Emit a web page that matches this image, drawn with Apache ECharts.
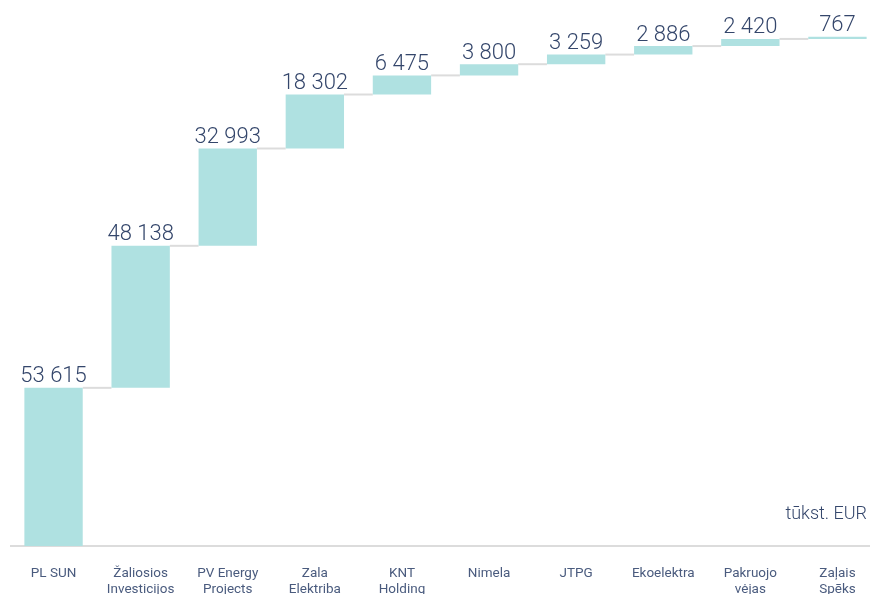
<!DOCTYPE html>
<html>
<head>
<meta charset="utf-8">
<script src="https://cdn.jsdelivr.net/npm/echarts@6/dist/echarts.min.js"></script>
<style>
  html, body { margin: 0; padding: 0; background: #fff; }
  #chart-area { width: 883px; height: 594px; }
</style>
</head>
<body>
<div id="chart-area"></div>
<script>
// įmonės (kategorijos)
var companies = ['PL SUN', 'Žaliosios\nInvesticijos', 'PV Energy\nProjects', 'Zala\nElektriba', 'KNT\nHolding',
    'Nimela', 'JTPG', 'Ekoelektra', 'Pakruojo\nvėjas', 'Zaļais\nSpēks'];
// vertės, tūkst. EUR
var values = [53615, 48138, 32993, 18302, 6475, 3800, 3259, 2886, 2420, 767];

var barColor = '#afe1e1';
var textColor = '#34466b';

// krioklio pagrindas (nematomas stulpelis)
var base = [];
var tops = [];
var sum = 0;
values.forEach(function(v){
    base.push(sum);
    sum += v;
    tops.push(sum);
});

// jungiamosios linijos tarp stulpelių
var links = [];
for (var i = 0; i < values.length - 1; i++) {
    links.push([i, tops[i]]);
}

function fmt(v){
    return String(v).replace(/\B(?=(\d{3})+(?!\d))/g, ' ');
}

var barRatio = 0.67;

var option = {
    animation: false,
    grid: { left: 10, right: 2, top: 15, bottom: 48, outerBoundsMode: 'none', containLabel: false },
    xAxis: {
        type: 'category',
        data: companies,
        axisTick: { show: false },
        axisLine: { show: false },
        axisLabel: {
            interval: 0,
            color: '#4a5b7e',
            fontFamily: 'Roboto',
            fontSize: 13.5,
            lineHeight: 16,
            margin: 20
        }
    },
    yAxis: {
        type: 'value',
        min: 0,
        max: 180000,
        show: false,
        splitLine: { show: false }
    },
    graphic: [{
        // ašies linija
        type: 'rect',
        left: 10,
        top: 545,
        shape: { width: 860, height: 2 },
        style: { fill: '#dcdcdc' },
        z: 0
    }, {
        type: 'text',
        right: 16,
        top: 505,
        style: {
            text: 'tūkst. EUR',
            fill: textColor,
            font: '300 18px Roboto'
        }
    }],
    series: [
        {
            type: 'custom',
            z: 1,
            data: links,
            renderItem: function(params, api){
                var i = api.value(0);
                var a = api.coord([i, api.value(1)]);
                var b = api.coord([i + 1, api.value(1)]);
                var half = api.size([1, 0])[0] * barRatio / 2;
                return {
                    type: 'line',
                    shape: { x1: a[0] + half, y1: a[1], x2: b[0] - half, y2: b[1] },
                    style: { stroke: '#dcdcdc', lineWidth: 2 }
                };
            },
            encode: { x: 0, y: 1 }
        },
        {
            type: 'bar',
            stack: 'w',
            barWidth: (barRatio * 100) + '%',
            itemStyle: { color: 'transparent' },
            data: base,
            silent: true
        },
        {
            type: 'bar',
            stack: 'w',
            z: 3,
            barWidth: (barRatio * 100) + '%',
            itemStyle: { color: barColor },
            label: {
                show: true,
                position: 'top',
                distance: 0,
                color: textColor,
                fontFamily: 'Roboto',
                fontWeight: 300,
                fontSize: 22,
                formatter: function(p){ return fmt(p.value); }
            },
            data: values
        }
    ]
};

var chart = echarts.init(document.getElementById('chart-area'));
chart.setOption(option);
</script>
</body>
</html>
